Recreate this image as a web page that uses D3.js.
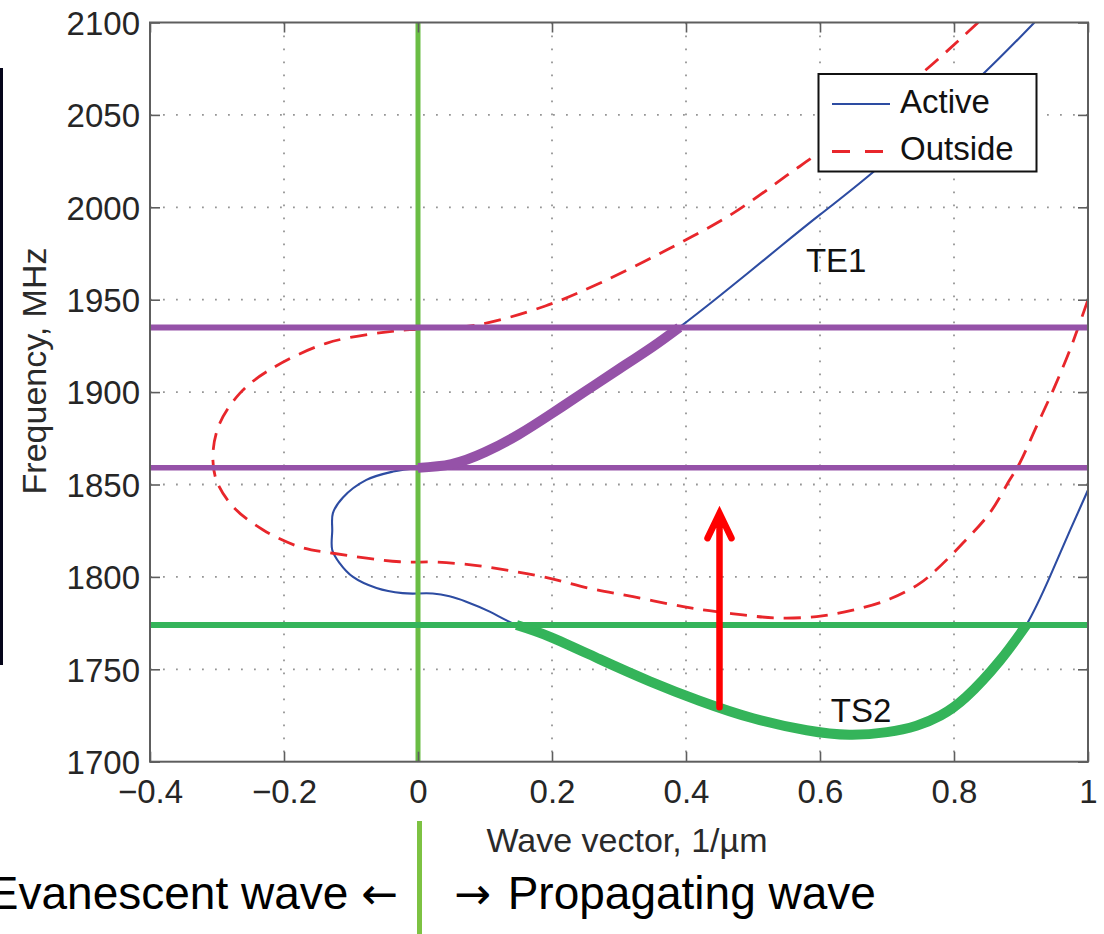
<!DOCTYPE html>
<html>
<head>
<meta charset="utf-8">
<script src="https://cdn.jsdelivr.net/npm/d3@7"></script>
<style>
body { margin: 0; background: #fff; }
text { font-family: "Liberation Sans", Arial, sans-serif; }
</style>
</head>
<body>
<svg id="chart"></svg>
<script>
const width = 1104;
const height = 934;
const margin = {top: 22.5, right: 16, bottom: 172.3, left: 150};

// [wave vector (1/um), frequency (MHz)]
// Active film: TE1 branch, left evanescent loop, TS2 branch
const te1Branch = [
    [0, 1859], [0.05, 1861], [0.1, 1867.5], [0.15, 1877], [0.2, 1888.5],
    [0.25, 1900.5], [0.3, 1912.5], [0.35, 1924.5], [0.39, 1935], [0.45, 1952],
    [0.54, 1978.5], [0.6, 1996], [0.679, 2019], [0.76, 2045], [0.843, 2072], [0.92, 2100]
];
const loopBranch = [
    [0, 1859], [-0.037, 1857], [-0.077, 1852.5], [-0.112, 1843], [-0.127, 1834.5],
    [-0.128, 1825], [-0.128, 1814.6], [-0.117, 1807.5], [-0.097, 1800], [-0.062, 1794],
    [-0.023, 1791.2], [0, 1791]
];
const ts2Branch = [
    [0, 1791], [0.022, 1791], [0.047, 1789.5], [0.072, 1786.6], [0.107, 1781.2],
    [0.147, 1774], [0.197, 1767.6], [0.271, 1755.5], [0.346, 1743.5], [0.42, 1733],
    [0.5, 1723.5], [0.58, 1717], [0.644, 1714.6], [0.7, 1716], [0.744, 1719.5],
    [0.78, 1725], [0.818, 1735], [0.868, 1754.5], [0.908, 1774], [0.943, 1800],
    [0.973, 1825], [1.0, 1847]
];
// Outside film
const outside = [
    [0.836, 2100], [0.749, 2071.6], [0.6, 2030], [0.555, 2018.4], [0.47, 1996.7],
    [0.371, 1976.9], [0.271, 1958.9], [0.19, 1946.6], [0.087, 1936.3], [0, 1934],
    [-0.032, 1933.2], [-0.137, 1926.4], [-0.226, 1911], [-0.266, 1899.3], [-0.296, 1883],
    [-0.306, 1866.9], [-0.301, 1852.4], [-0.276, 1838], [-0.231, 1825.4], [-0.177, 1816.3],
    [-0.127, 1812.8], [-0.027, 1808.2], [0.027, 1808], [0.082, 1806.4], [0.137, 1803.4],
    [0.197, 1799.2], [0.256, 1793.8], [0.321, 1789.3], [0.396, 1783.9], [0.435, 1781.7],
    [0.485, 1779.4], [0.535, 1777.8], [0.595, 1778.5], [0.649, 1782], [0.704, 1788],
    [0.749, 1796.5], [0.774, 1804], [0.813, 1818.2], [0.853, 1834.4], [0.883, 1852.4],
    [0.898, 1861.5], [0.923, 1881.3], [0.948, 1901.1], [0.973, 1922.8], [1.0, 1950]
];

const bandTop = 1935, bandMid = 1859, bandLow = 1774;
const arrowK = 0.45, arrowFrom = 1729.4, arrowTo = 1835;

const xTicks = [-0.4, -0.2, 0, 0.2, 0.4, 0.6, 0.8, 1];
const xTickLabels = ["\u22120.4", "\u22120.2", "0", "0.2", "0.4", "0.6", "0.8", "1"];
const yTicks = [1700, 1750, 1800, 1850, 1900, 1950, 2000, 2050, 2100];

const curveLabels = [
    {text: "TE1", k: 0.579, f: 1965},
    {text: "TS2", k: 0.616, f: 1721.5}
];
const legendItems = ["Active", "Outside"];

const svg = d3.select('#chart')
    .attr('width', width)
    .attr('height', height);

const x = d3.scaleLinear().domain([-0.4, 1]).range([margin.left, width - margin.right]);
const y = d3.scaleLinear().domain([1700, 2100]).range([height - margin.bottom, margin.top]);

svg.append('defs').append('clipPath').attr('id', 'plot-clip')
    .append('rect')
    .attr('x', x(-0.4)).attr('y', y(2100))
    .attr('width', x(1) - x(-0.4)).attr('height', y(1700) - y(2100));

// stray frame edge on the left of the slide
svg.append('rect')
    .attr('x', 0).attr('y', 68).attr('width', 3).attr('height', 597)
    .attr('fill', '#05051a');

// grid
const grid = svg.append('g').attr('stroke', '#959595').attr('stroke-width', 1.8)
    .attr('stroke-dasharray', '1.8,11.2');
grid.selectAll('.gx').data(xTicks.slice(1, -1)).join('line')
    .attr('x1', d => x(d)).attr('x2', d => x(d))
    .attr('y1', y(2100)).attr('y2', y(1700));
grid.selectAll('.gy').data(yTicks.slice(1, -1)).join('line')
    .attr('x1', x(-0.4)).attr('x2', x(1))
    .attr('y1', d => y(d)).attr('y2', d => y(d));

const loopLine = d3.line()
    .x(d => x(d[0]))
    .y(d => y(d[1]))
    .curve(d3.curveCatmullRom.alpha(0.5));
const smoothLine = d3.line()
    .x(d => x(d[0]))
    .y(d => y(d[1]))
    .curve(d3.curveNatural);

const plot = svg.append('g').attr('clip-path', 'url(#plot-clip)');

const blue = '#2d4ca2';
[[te1Branch, smoothLine], [loopBranch, loopLine], [ts2Branch, smoothLine]].forEach(([pts, gen]) => {
    plot.append('path').datum(pts)
        .attr('d', gen)
        .attr('fill', 'none').attr('stroke', blue).attr('stroke-width', 2.1);
});

plot.append('path').datum(outside)
    .attr('d', loopLine)
    .attr('fill', 'none').attr('stroke', '#e8262b').attr('stroke-width', 2.8)
    .attr('stroke-dasharray', '17,10');

// k = 0 divider
plot.append('line')
    .attr('x1', x(0)).attr('x2', x(0))
    .attr('y1', y(2100)).attr('y2', y(1700))
    .attr('stroke', '#6abd45').attr('stroke-width', 5);

// band edges
plot.selectAll('.band').data([
        {f: bandTop, c: '#9552a8', w: 6},
        {f: bandMid, c: '#9552a8', w: 5.5},
        {f: bandLow, c: '#34b45a', w: 6}])
    .join('line')
    .attr('x1', x(-0.4)).attr('x2', x(1))
    .attr('y1', d => y(d.f)).attr('y2', d => y(d.f))
    .attr('stroke', d => d.c).attr('stroke-width', d => d.w);

// highlighted branches
plot.append('path').datum(te1Branch.filter(d => d[1] <= bandTop))
    .attr('d', smoothLine)
    .attr('fill', 'none').attr('stroke', '#9552a8').attr('stroke-width', 10)
    .attr('stroke-linecap', 'butt');
plot.append('path').datum(ts2Branch.filter(d => d[1] <= bandLow))
    .attr('d', smoothLine)
    .attr('fill', 'none').attr('stroke', '#34b45a').attr('stroke-width', 10)
    .attr('stroke-linecap', 'butt');

// pump arrow
const ax = x(arrowK), ay0 = y(arrowFrom), ay1 = y(arrowTo);
svg.append('path')
    .attr('d', `M${ax},${ay0}L${ax},${ay1 + 3}M${ax - 12},${ay1 + 26}L${ax},${ay1 + 1}L${ax + 12},${ay1 + 26}`)
    .attr('fill', 'none').attr('stroke', '#ff0000').attr('stroke-width', 6.5)
    .attr('stroke-linecap', 'round').attr('stroke-linejoin', 'miter');

// axes
const axisColor = '#5e5e5e';
const styleAxis = g => {
    g.select('.domain').remove();
    g.selectAll('.tick line').attr('stroke', axisColor).attr('stroke-width', 1.6);
    g.selectAll('.tick text').attr('fill', '#262626').style('font-size', '33px')
        .style('font-family', '"Liberation Sans", Arial, sans-serif');
};
svg.append('g').attr('transform', `translate(0,${y(1700)})`)
    .call(d3.axisBottom(x).tickValues(xTicks).tickFormat((d, i) => xTickLabels[i])
        .tickSize(-10).tickSizeOuter(0).tickPadding(18))
    .call(styleAxis);
svg.append('g').attr('transform', `translate(0,${y(2100)})`)
    .call(d3.axisTop(x).tickValues(xTicks).tickFormat('').tickSize(-10).tickSizeOuter(0))
    .call(styleAxis);
svg.append('g').attr('transform', `translate(${x(-0.4)},0)`)
    .call(d3.axisLeft(y).tickValues(yTicks).tickFormat(d3.format('d'))
        .tickSize(-10).tickSizeOuter(0).tickPadding(10))
    .call(styleAxis)
    .selectAll('.tick text').attr('dy', '0.36em');
svg.append('g').attr('transform', `translate(${x(1)},0)`)
    .call(d3.axisRight(y).tickValues(yTicks).tickFormat('').tickSize(-10).tickSizeOuter(0))
    .call(styleAxis);

svg.append('rect')
    .attr('x', x(-0.4)).attr('y', y(2100))
    .attr('width', x(1) - x(-0.4)).attr('height', y(1700) - y(2100))
    .attr('fill', 'none').attr('stroke', axisColor).attr('stroke-width', 2);

// axis titles
svg.append('text')
    .attr('transform', `translate(46,371) rotate(-90)`)
    .attr('text-anchor', 'middle')
    .attr('fill', '#2a2a2a').style('font-size', '34px')
    .text('Frequency, MHz');
svg.append('text')
    .attr('x', 627).attr('y', 852)
    .attr('text-anchor', 'middle')
    .attr('fill', '#2a2a2a').style('font-size', '34px')
    .text('Wave vector, 1/\u00b5m');

// curve labels
svg.selectAll('.clabel').data(curveLabels).join('text')
    .attr('x', d => x(d.k)).attr('y', d => y(d.f))
    .attr('fill', '#111').style('font-size', '33px')
    .text(d => d.text);

// legend
const legend = svg.append('g');
legend.append('rect')
    .attr('x', 818.5).attr('y', 74).attr('width', 218).attr('height', 97.5)
    .attr('fill', '#fff').attr('stroke', '#111').attr('stroke-width', 2);
legend.selectAll('.lline').data(legendItems).join('line')
    .attr('x1', 832).attr('x2', 890)
    .attr('y1', (d, i) => 104 + i * 47.5).attr('y2', (d, i) => 104 + i * 47.5)
    .attr('stroke', (d, i) => i === 0 ? blue : '#e8262b')
    .attr('stroke-width', (d, i) => i === 0 ? 2.1 : 2.8)
    .attr('stroke-dasharray', (d, i) => i === 0 ? null : '18,15');
legend.selectAll('.ltext').data(legendItems).join('text')
    .attr('x', 900).attr('y', (d, i) => 112.5 + i * 47)
    .attr('fill', '#111').style('font-size', '33px')
    .text(d => d);

// evanescent / propagating divider below the chart
svg.append('line')
    .attr('x1', x(0) + 1.5).attr('x2', x(0) + 1.5)
    .attr('y1', 821).attr('y2', height)
    .attr('stroke', '#7dc242').attr('stroke-width', 5);
const leftNote = svg.append('text')
    .attr('x', 398).attr('y', 909)
    .attr('text-anchor', 'end')
    .attr('fill', '#000').style('font-size', '46px');
leftNote.append('tspan').text('Evanescent wave ');
leftNote.append('tspan').style('font-family', '"DejaVu Sans"').style('font-size', '44px').text('\u2190');
const rightNote = svg.append('text')
    .attr('x', 454).attr('y', 909)
    .attr('fill', '#000').style('font-size', '46px');
rightNote.append('tspan').style('font-family', '"DejaVu Sans"').style('font-size', '44px').text('\u2192');
rightNote.append('tspan').attr('dx', 4).text(' Propagating wave');
</script>
</body>
</html>
